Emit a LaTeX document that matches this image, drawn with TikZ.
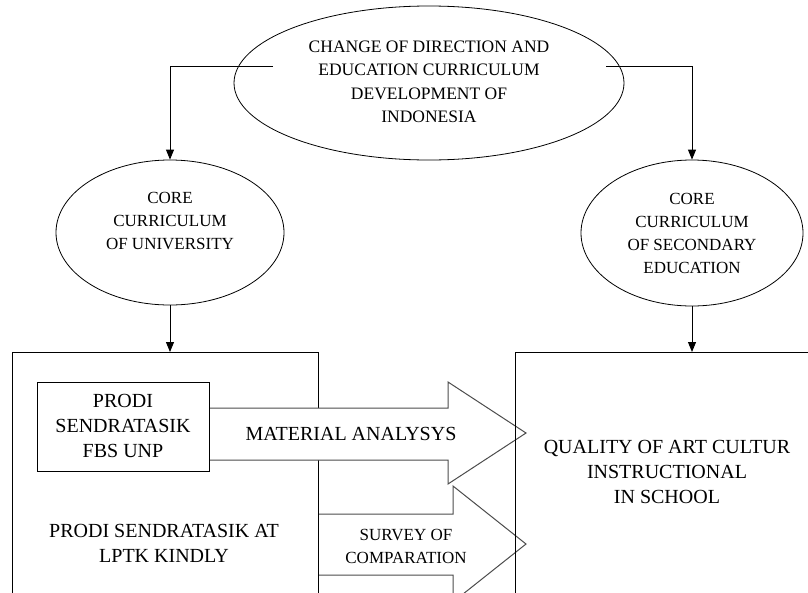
\documentclass[tikz,border=0pt]{standalone}
\usepackage{fontspec}
\setmainfont{Liberation Serif}
\usetikzlibrary{shapes.geometric,arrows.meta}
\begin{document}
\begin{tikzpicture}[x=1pt,y=-1pt,
  conn/.style={line width=0.9pt,-{Triangle[length=10pt,width=8pt]}},
  oval/.style={draw,ellipse,line width=0.8pt,inner sep=0pt},
  bigbox/.style={draw,line width=0.9pt,inner sep=0pt},
  fatarrow/.style={draw=black!70,fill=white,line width=1pt},
  bigtxt/.style={align=center,inner sep=0pt,font=\fontsize{20}{25}\selectfont},
  smalltxt/.style={align=center,inner sep=0pt,font=\fontsize{17}{23}\selectfont},
]
\useasboundingbox (0,0) rectangle (808,592);
\clip (0,0) rectangle (808,592);

% ellipses
\node[oval,minimum width=390pt,minimum height=154pt] (top) at (429,83) {};
\node[smalltxt,font=\fontsize{17.5}{23.5}\selectfont] (toptxt) at (429,82)
  {CHANGE OF DIRECTION AND\\EDUCATION CURRICULUM\\DEVELOPMENT OF\\INDONESIA};
\node[oval,minimum width=228pt,minimum height=145pt] (lell) at (170,232.5) {};
\node[smalltxt] (lelltxt) at (170,221) {CORE\\CURRICULUM\\OF UNIVERSITY};
\node[oval,minimum width=222pt,minimum height=146pt] (rell) at (692,233) {};
\node[smalltxt] (relltxt) at (692,233) {CORE\\CURRICULUM\\OF SECONDARY\\EDUCATION};

% connectors from top ellipse
\coordinate (tl) at (273,66);
\coordinate (tr) at (606,66);
\draw[conn] (tl) -| (lell.north);
\draw[conn] (tr) -| (rell.north);

% second fat arrow (behind the left box edge)
\filldraw[fatarrow] (318,514) -- (453,514) -- (453,486) -- (526,544) -- (453,602) -- (453,575) -- (318,575);

% left big box
\node[bigbox,minimum width=306pt,minimum height=300pt,anchor=north west] (lbox) at (12,352) {};
\draw[conn] (lell.south) -- (lbox.north -| lell.south);

% first fat arrow (covers the left box edge)
\filldraw[fatarrow] (209,408) -- (448,408) -- (448,382) -- (526,433) -- (448,484) -- (448,460) -- (209,460);

\node[bigbox,minimum width=172pt,minimum height=89pt,anchor=north west] (inbox) at (37,382) {};
\node[bigtxt] (intxt) at (123,425.5) {PRODI\\SENDRATASIK\\FBS UNP};

% right big box
\node[bigbox,minimum width=320pt,minimum height=300pt,anchor=north west] (rbox) at (515,352) {};
\draw[conn] (rell.south) -- (rbox.north -| rell.south);

% texts
\node[bigtxt] (mat) at (351,434) {MATERIAL ANALYSYS};
\node[smalltxt] (surv) at (406,546) {SURVEY OF\\COMPARATION};
\node[bigtxt] (lptk) at (164,543) {PRODI SENDRATASIK AT\\LPTK KINDLY};
\node[bigtxt] (qual) at (667,472) {QUALITY OF ART CULTUR\\INSTRUCTIONAL\\IN SCHOOL};
\end{tikzpicture}
\end{document}
